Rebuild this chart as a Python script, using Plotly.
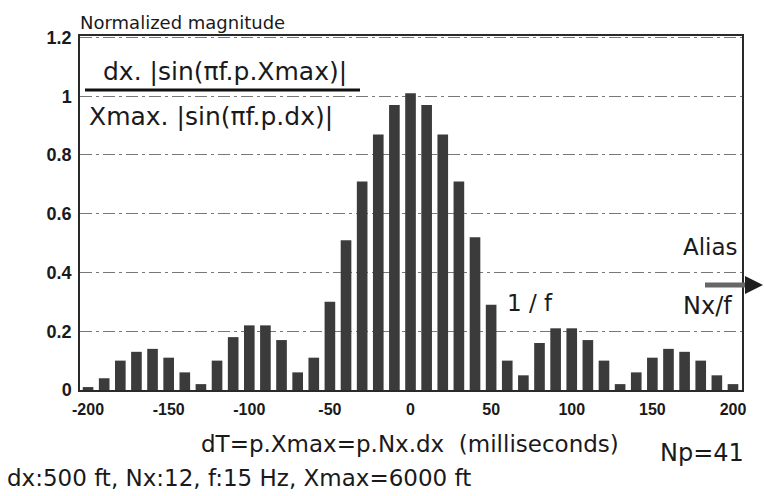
import plotly.graph_objects as go

# Data
delay_ms = [-200, -190, -180, -170, -160, -150, -140, -130, -120, -110,
            -100, -90, -80, -70, -60, -50, -40, -30, -20, -10,
            0, 10, 20, 30, 40, 50, 60, 70, 80, 90,
            100, 110, 120, 130, 140, 150, 160, 170, 180, 190, 200]
magnitude = [0.01, 0.04, 0.10, 0.13, 0.14, 0.11, 0.06, 0.02, 0.10, 0.18,
             0.22, 0.22, 0.17, 0.06, 0.11, 0.30, 0.51, 0.71, 0.87, 0.97,
             1.01, 0.97, 0.87, 0.71, 0.52, 0.29, 0.10, 0.05, 0.16, 0.21,
             0.21, 0.17, 0.10, 0.02, 0.06, 0.11, 0.14, 0.13, 0.10, 0.05, 0.02]
x_ticks = [-200, -150, -100, -50, 0, 50, 100, 150, 200]
y_ticks = [0, 0.2, 0.4, 0.6, 0.8, 1, 1.2]
y_tick_text = ["0", "0.2", "0.4", "0.6", "0.8", "1", "1.2"]

W, H = 764, 496
L, R, T, B = 80, 742, 36, 390


def px(x):
    return (x - L) / (R - L)


def py(y):
    return (B - y) / (B - T)


FONT = "DejaVu Sans"
TXT = "#1a1a1a"

fig = go.Figure()
fig.add_trace(go.Bar(
    x=delay_ms, y=magnitude,
    marker=dict(color="#3b3b3b", line=dict(width=0)),
    hoverinfo="x+y",
))

annotations = []


def add_text(text, x, y, size, xanchor="center", weight="normal", family=FONT):
    annotations.append(dict(
        text=text, x=px(x), y=py(y), xref="paper", yref="paper",
        xanchor=xanchor, yanchor="middle", showarrow=False,
        font=dict(family=family, size=size, color=TXT, weight=weight),
    ))


add_text("Normalized magnitude", 78, 22, 18, xanchor="left")
add_text("dx. |sin(\u03c0f.p.Xmax)|", 225, 72, 25)
add_text("Xmax. |sin(\u03c0f.p.dx)|", 211, 117, 25)
add_text("1 / f", 530, 303, 23)
add_text("Alias", 710, 247, 23)
add_text("Nx/f", 707, 306, 24)
add_text("dT=p.Xmax=p.Nx.dx\u00a0\u00a0(milliseconds)", 410, 444, 23)
add_text("dx:500 ft, Nx:12, f:15 Hz, Xmax=6000 ft", 5, 478, 23, xanchor="left")
add_text("Np=41", 702, 453, 24)

shapes = [
    # fraction bar
    dict(type="line", xref="paper", yref="paper",
         x0=px(85), x1=px(360), y0=py(90), y1=py(90),
         line=dict(color="#111111", width=3)),
    # alias arrow shaft
    dict(type="line", xref="paper", yref="paper",
         x0=px(705), x1=px(748), y0=py(285), y1=py(285),
         line=dict(color="#666666", width=5)),
    # alias arrow head
    dict(type="path", xref="paper", yref="paper",
         path=f"M {px(745)} {py(276)} L {px(763)} {py(285)} L {px(745)} {py(294)} Z",
         fillcolor="#1e1e1e", line=dict(width=0)),
]

fig.update_layout(
    width=W, height=H,
    margin=dict(l=L, r=W - R, t=T, b=H - B, autoexpand=False),
    paper_bgcolor="white", plot_bgcolor="white",
    showlegend=False,
    bargap=0.34,
    annotations=annotations,
    shapes=shapes,
    xaxis=dict(
        range=[-205, 205.6],
        tickvals=x_ticks,
        ticktext=[str(v) for v in x_ticks],
        tickfont=dict(family="Liberation Sans", size=16, color=TXT, weight="bold"),
        showgrid=False, zeroline=False,
        showline=True, linecolor="#2a2a2a", linewidth=1.5, mirror=True,
        ticks="", ticklabelstandoff=4,
    ),
    yaxis=dict(
        range=[0, 1.205],
        tickvals=y_ticks,
        ticktext=y_tick_text,
        tickfont=dict(family="Liberation Sans", size=18, color=TXT, weight="bold"),
        showgrid=True, gridcolor="#777777", gridwidth=1,
        griddash="12px,4px,3px,4px",
        zeroline=False,
        showline=True, linecolor="#2a2a2a", linewidth=1.5, mirror=True,
        ticks="", ticklabelstandoff=3,
    ),
)

fig.write_html(
    "out.html",
    config={"displayModeBar": False},
    post_script="document.body.style.margin='0px';document.documentElement.style.overflow='hidden';",
)
